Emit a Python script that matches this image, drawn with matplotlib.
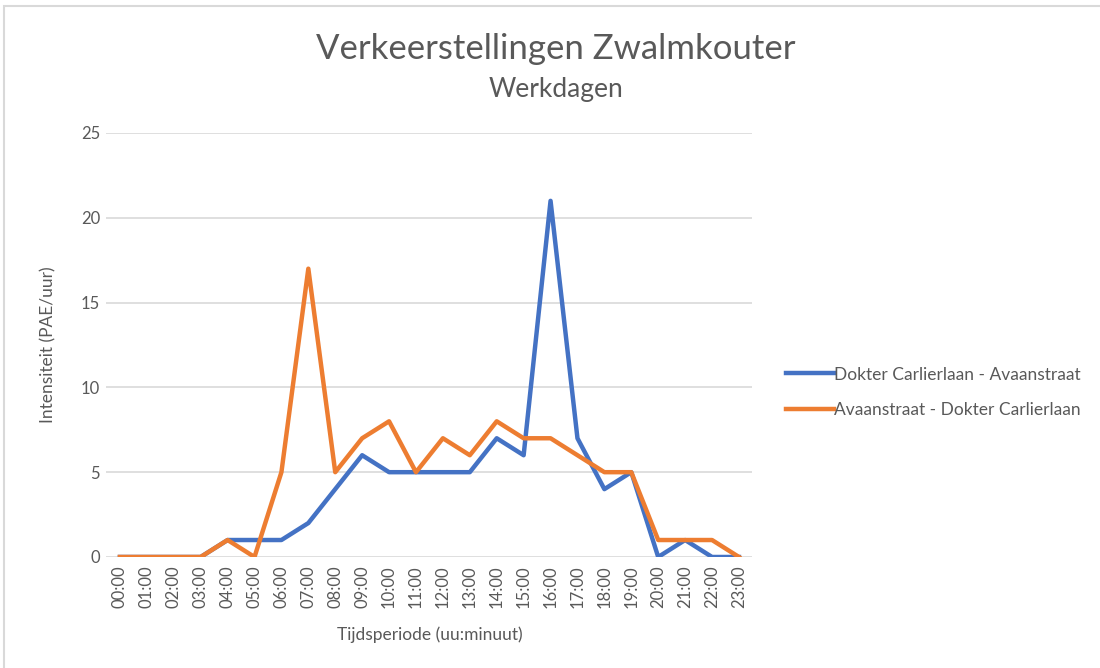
import matplotlib.pyplot as plt
from matplotlib.patches import Rectangle

# tijdsperiodes en intensiteiten (PAE/uur) per richting
uren = ['%02d:00' % h for h in range(24)]
carlier_avaan = [0, 0, 0, 0, 1, 1, 1, 2, 4, 6, 5, 5, 5, 5, 7, 6, 21, 7, 4, 5, 0, 1, 0, 0]
avaan_carlier = [0, 0, 0, 0, 1, 0, 5, 17, 5, 7, 8, 5, 7, 6, 8, 7, 7, 6, 5, 5, 1, 1, 1, 0]

plt.rcParams['font.family'] = ['Lato', 'DejaVu Sans']
grijs = '#595959'

fig = plt.figure(figsize=(11, 6.68), dpi=100)
ax = fig.add_axes([0.0968, 0.1662, 0.5872, 0.6347])

# rand rond de grafiek
fig.patches.append(Rectangle((0.004, -0.01), 1.0, 1.001, transform=fig.transFigure,
                             fill=False, edgecolor='#D9D9D9', linewidth=1.5))

x = range(len(uren))
ax.plot(x, carlier_avaan, color='#4472C4', linewidth=3.2, label='Dokter Carlierlaan - Avaanstraat',
        solid_joinstyle='round', zorder=3)
ax.plot(x, avaan_carlier, color='#ED7D31', linewidth=3.2, label='Avaanstraat - Dokter Carlierlaan',
        solid_joinstyle='round', zorder=4)

ax.set_xlim(-0.5, len(uren) - 0.5)
ax.set_ylim(0, 25)
ax.set_yticks(range(0, 26, 5))
ax.set_xticks(list(x))
ax.set_xticklabels(uren, rotation=90)
ax.grid(axis='y', color='#D9D9D9', linewidth=1.2)
ax.set_axisbelow(True)
for s in ax.spines.values():
    s.set_visible(False)
ax.tick_params(length=0, colors=grijs, labelsize=12)
ax.tick_params(axis='y', pad=4.5)
ax.tick_params(axis='x', pad=6)

ax.set_ylabel('Intensiteit (PAE/uur)', color=grijs, fontsize=12.5, labelpad=18)
ax.set_xlabel('Tijdsperiode (uu:minuut)', color=grijs, fontsize=12.5, labelpad=13)

fig.text(0.505, 0.926, 'Verkeerstellingen Zwalmkouter', ha='center', va='center',
         fontsize=25, color=grijs)
fig.text(0.505, 0.866, 'Werkdagen', ha='center', va='center', fontsize=19, color=grijs)

leg = ax.legend(loc='center left', bbox_to_anchor=(0.7, 0.413), bbox_transform=fig.transFigure,
                frameon=False, fontsize=12.5, handlelength=2.8, handletextpad=0.0,
                labelspacing=1.1, labelcolor=grijs)

fig.savefig('out.png', dpi=100)
